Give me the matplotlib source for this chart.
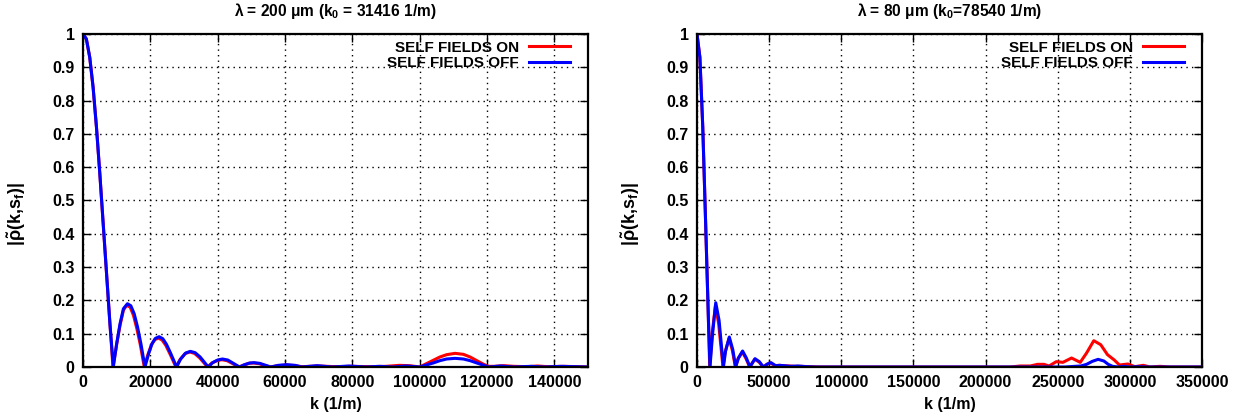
import matplotlib
matplotlib.use("Agg")
import matplotlib.pyplot as plt
from matplotlib.ticker import FormatStrFormatter, MultipleLocator

plt.rcParams['font.family'] = ['Liberation Sans', 'DejaVu Sans']
plt.rcParams['font.weight'] = 'bold'
plt.rcParams['mathtext.fontset'] = 'custom'
plt.rcParams['mathtext.rm'] = 'Liberation Sans:bold'
plt.rcParams['mathtext.it'] = 'Liberation Sans:bold'
plt.rcParams['mathtext.bf'] = 'Liberation Sans:bold'

# ---- left panel: lambda = 200 um ----
k_on_l = [0, 1000, 2000, 3000, 4000, 5000, 6000, 7000, 8000, 8900,
          10000, 11000, 12000, 12900, 14000, 15000, 16000, 17000, 18200,
          19300, 20300, 21300, 22400, 23500, 24600, 25800, 27600,
          28800, 30300, 31700, 33100, 34600, 37000,
          38300, 39800, 41200, 42800, 44300, 46300,
          47800, 49300, 50600, 52300, 53800, 55600,
          58000, 60500, 63000, 65000, 70000, 75000, 80000, 85000, 90000, 94000, 97000,
          100000, 102000, 104000, 106000, 108000, 110500, 113000, 115000, 117000, 119000, 120500,
          122000, 125000, 128000, 132000, 135000, 138000, 143000, 150000]
v_on_l = [1.0, 0.985, 0.93, 0.84, 0.72, 0.58, 0.43, 0.28, 0.13, 0.0,
          0.068, 0.125, 0.17, 0.185, 0.18, 0.155, 0.115, 0.068, 0.0,
          0.038, 0.066, 0.082, 0.087, 0.081, 0.065, 0.04, 0.0,
          0.022, 0.04, 0.045, 0.041, 0.028, 0.0,
          0.012, 0.019, 0.022, 0.019, 0.011, 0.0,
          0.006, 0.011, 0.012, 0.01, 0.005, 0.0,
          0.004, 0.006, 0.004, 0.001, 0.003, 0.001, 0.002, 0.001, 0.002, 0.005, 0.004,
          0.0, 0.01, 0.02, 0.03, 0.037, 0.041, 0.038, 0.03, 0.019, 0.008, 0.002,
          0.002, 0.004, 0.002, 0.001, 0.003, 0.001, 0.002, 0.0]

k_off_l = [0, 1000, 2000, 3000, 4000, 5000, 6000, 7000, 8000, 9000,
           10000, 11000, 12000, 13200, 14200, 15200, 16200, 17200, 18400,
           19500, 20500, 21500, 22600, 23700, 24800, 26000, 27800,
           29000, 30500, 31900, 33300, 34800, 37200,
           38500, 40000, 41400, 43000, 44500, 46500,
           48000, 49500, 50800, 52500, 54000, 55800,
           58000, 60500, 63000, 65000, 69500, 74000, 79000, 84000, 88000, 92000, 96000,
           100000, 102000, 104000, 106000, 108000, 110500, 113000, 115000, 117000, 119000, 120500,
           124000, 128000, 133000, 137000, 142000, 150000]
v_off_l = [1.0, 0.985, 0.93, 0.84, 0.72, 0.58, 0.43, 0.28, 0.13, 0.0,
           0.07, 0.13, 0.175, 0.19, 0.184, 0.16, 0.12, 0.07, 0.0,
           0.04, 0.07, 0.086, 0.091, 0.085, 0.068, 0.042, 0.0,
           0.024, 0.042, 0.047, 0.043, 0.03, 0.0,
           0.013, 0.021, 0.024, 0.021, 0.012, 0.0,
           0.007, 0.012, 0.013, 0.011, 0.006, 0.0,
           0.005, 0.007, 0.005, 0.0, 0.004, 0.0, 0.003, 0.0, 0.002, 0.0, 0.003,
           0.0, 0.006, 0.012, 0.019, 0.024, 0.026, 0.024, 0.019, 0.012, 0.005, 0.0,
           0.003, 0.0, 0.002, 0.0, 0.002, 0.0]

# ---- right panel: lambda = 80 um ----
k_on_r = [0, 2000, 4000, 6000, 8000, 8800,
          10500, 12800, 15000, 18000,
          19500, 22200, 24500, 26600,
          28500, 31400, 34000, 36500,
          38000, 40000, 43000, 45800,
          48500, 51000, 54000, 57000, 60000, 64000, 68000, 72000, 78000, 85000,
          217000, 224000, 231000, 236000, 240500, 244000, 249000, 253600, 259600, 265600,
          270000, 275000, 279800, 284500, 289200, 292800, 298700, 303400, 309300, 314000,
          321000, 328000, 350000]
v_on_r = [1.0, 0.93, 0.72, 0.43, 0.13, 0.0,
          0.1, 0.185, 0.13, 0.0,
          0.045, 0.086, 0.05, 0.0,
          0.025, 0.045, 0.025, 0.0,
          0.01, 0.023, 0.015, 0.0,
          0.008, 0.012, 0.004, 0.005, 0.004, 0.003, 0.002, 0.002, 0.001, 0.0,
          0.0, 0.003, 0.003, 0.008, 0.008, 0.003, 0.016, 0.014, 0.027, 0.014,
          0.042, 0.079, 0.067, 0.037, 0.021, 0.006, 0.009, 0.001, 0.005, 0.0,
          0.002, 0.0, 0.0]

k_off_r = [0, 2000, 4000, 6000, 8000, 9000,
           10800, 13000, 15300, 18300,
           19800, 22400, 24800, 26800,
           28700, 31600, 34200, 36700,
           38200, 40200, 43200, 46000,
           48800, 51300, 54500, 57500, 60000, 65000, 70000, 76000, 82000,
           255000, 262000, 266000, 270000, 274000, 278000, 282000, 285000, 288000,
           292000, 296000, 300000, 306000, 312000, 350000]
v_off_r = [1.0, 0.93, 0.72, 0.43, 0.13, 0.0,
           0.1, 0.193, 0.14, 0.0,
           0.048, 0.09, 0.052, 0.0,
           0.027, 0.048, 0.027, 0.0,
           0.011, 0.025, 0.016, 0.0,
           0.009, 0.013, 0.004, 0.005, 0.004, 0.002, 0.003, 0.001, 0.0,
           0.0, 0.002, 0.003, 0.008, 0.017, 0.023, 0.018, 0.008, 0.002,
           0.0, 0.002, 0.0, 0.001, 0.0, 0.0]

titles = [r'$\lambda$ = 200 $\mu$m (k$_0$ = 31416 1/m)',
          r'$\lambda$ = 80 $\mu$m (k$_0$=78540 1/m)']
xlims = [150000, 350000]
xsteps = [20000, 50000]
labels = ['SELF FIELDS ON', 'SELF FIELDS OFF']

fig = plt.figure(figsize=(12.39, 4.19), dpi=100)
ax_l = fig.add_axes([83/1239, 1 - 367/419, 505/1239, 333/419])
ax_r = fig.add_axes([697/1239, 1 - 367/419, 505/1239, 333/419])

data = [(k_on_l, v_on_l, k_off_l, v_off_l), (k_on_r, v_on_r, k_off_r, v_off_r)]
fs = 11.5

for i, ax in enumerate([ax_l, ax_r]):
    kon, von, koff, voff = data[i]
    ax.plot(kon, von, color='#ff0000', lw=2.2, label=labels[0])
    ax.plot(koff, voff, color='#0000ff', lw=2.2, label=labels[1])
    ax.set_xlim(0, xlims[i])
    ax.set_ylim(0, 1)
    ax.xaxis.set_major_locator(MultipleLocator(xsteps[i]))
    ax.yaxis.set_major_locator(MultipleLocator(0.1))
    ax.yaxis.set_major_formatter(FormatStrFormatter('%g'))
    ax.grid(True, color='black', linestyle=(0, (1, 3)), lw=1)
    ax.tick_params(direction='in', length=6, width=1, top=True, right=True,
                   labelsize=fs, pad=6)
    for lab in ax.get_xticklabels() + ax.get_yticklabels():
        lab.set_fontweight('bold')
    for sp in ax.spines.values():
        sp.set_linewidth(1.6)
    ax.set_title(titles[i], fontsize=11.2, fontweight='bold', pad=13)
    ax.set_xlabel('k (1/m)', fontsize=fs, fontweight='bold')
    ax.xaxis.set_label_coords(0.5, -0.09)
    ax.set_ylabel(r'|$\tilde{\rho}$(k,s$_\mathrm{f}$)|', fontsize=13, fontweight='bold')
    ax.yaxis.set_label_coords(-0.108, 0.46)
    ax.legend(loc='upper right', bbox_to_anchor=(0.964, 0.98), frameon=False,
              markerfirst=False, handlelength=2.7, handletextpad=0.65,
              labelspacing=0.1, borderaxespad=0, borderpad=0,
              prop={'size': 11, 'weight': 'bold'})

fig.savefig('out.png', dpi=100)
